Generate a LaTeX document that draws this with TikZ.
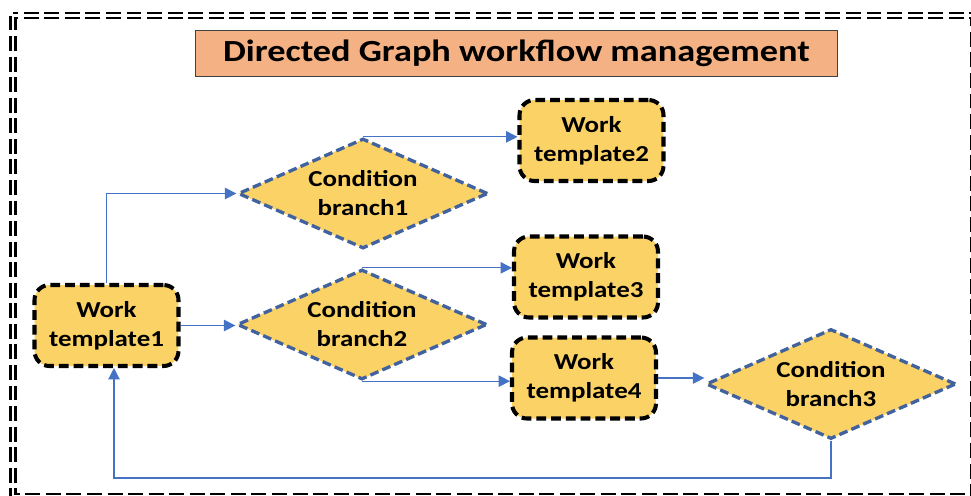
\documentclass[tikz,border=0pt]{standalone}
\usepackage{fontspec}
\setmainfont{Carlito}[FakeStretch=1.18]
\usetikzlibrary{arrows.meta,shapes.geometric}
\definecolor{taskfill}{RGB}{250,210,102}
\definecolor{titlefill}{RGB}{244,177,131}
\definecolor{branchline}{RGB}{66,98,158}
\definecolor{flow}{RGB}{68,114,196}

\begin{document}
\begin{tikzpicture}[
  x=0.02cm, y=-0.02cm,
  >={Triangle[length=6.5pt,width=6.5pt]},
  boxfont/.style={font=\fontsize{13}{16.5}\selectfont\bfseries},
  task/.style={rectangle,rounded corners=0.3cm,minimum width=2.88cm,minimum height=1.62cm,
               inner sep=2pt,draw=black,fill=taskfill,line width=2.3pt,
               dash pattern=on 5.6pt off 2.8pt,align=center,boxfont},
  branch/.style={diamond,aspect=2.24,minimum width=5cm,minimum height=2.2cm,inner sep=0pt,
                 draw=branchline,fill=taskfill,line width=1.9pt,
                 dash pattern=on 5pt off 2.4pt,align=center,boxfont},
  heading/.style={rectangle,minimum width=12.84cm,minimum height=0.92cm,
                  draw=black!75,fill=titlefill,line width=0.6pt,
                  font=\fontsize{17.5}{20}\selectfont\bfseries},
  flowline/.style={flow,line width=0.7pt,->},
  frame/.style={double,line width=1.4pt,double distance=1.2pt,
                dash pattern=on 8.5pt off 3.2pt}
]
\useasboundingbox (0,0) rectangle (971,495);
\clip (0,0) rectangle (971,495);

% outer frame runs past the right and bottom edges
\draw[frame] (13,15.5) rectangle (973.5,496.5);

\node[heading] (title) at (516.5,53.5) {Directed Graph workflow management};

\node[task]   (wt1) at (106.5,325.5) {Work\\template1};
\node[branch] (cb1) at (363,193.5)   {Condition\\branch1};
\node[branch] (cb2) at (362,324.5)   {Condition\\branch2};
\node[task]   (wt2) at (591.5,140.5) {Work\\template2};
\node[task]   (wt3) at (586,277)     {Work\\template3};
\node[task]   (wt4) at (584,378)     {Work\\template4};
\node[branch] (cb3) at (831,384)     {Condition\\branch3};

\draw[flowline] (wt1.north) |- (cb1.west);
\draw[flowline] (wt1.east) -- (wt1.east -| cb2.west);
\draw[flowline] (cb1.north) -- (cb1.north -| wt2.west);
\draw[flowline] (cb2.north) -- (cb2.north -| wt3.west);
\draw[flowline] (cb2.south) -- (cb2.south -| wt4.west);
\draw[flowline] (wt4.east) -- (wt4.east -| cb3.west);

% loop back from the last branch
\coordinate (back) at (114,478);
\draw[flowline] (cb3.south) |- (back) -- (wt1.south -| back);
\end{tikzpicture}
\end{document}
